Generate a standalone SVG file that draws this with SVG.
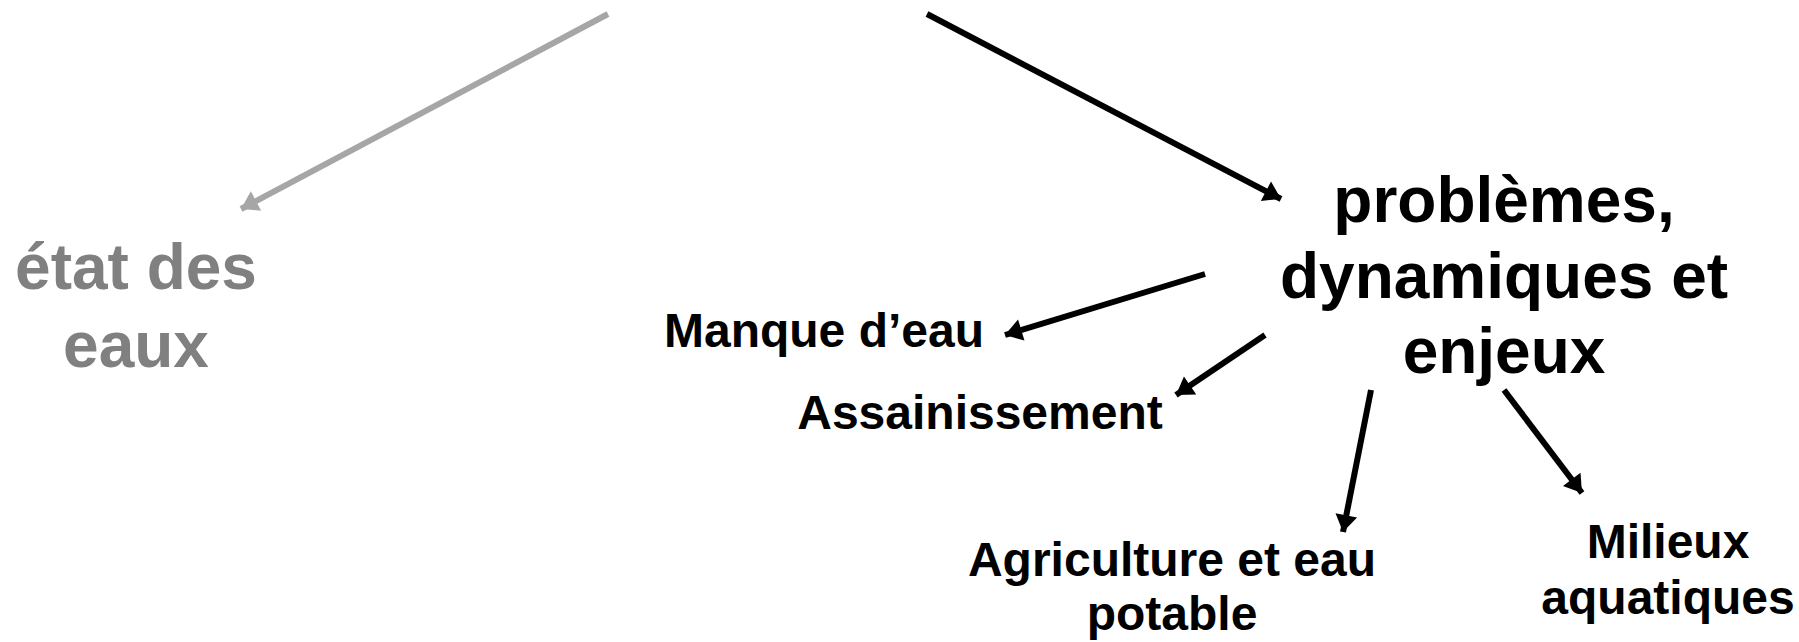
<svg xmlns="http://www.w3.org/2000/svg" width="1799" height="642" viewBox="0 0 1799 642">
<defs>
<marker id="ahB" markerUnits="userSpaceOnUse" markerWidth="24" markerHeight="24" viewBox="0 0 24 24" refX="20" refY="12" orient="auto">
<path d="M3,1 L20,12 L3,23 z" fill="#000"/>
</marker>
<marker id="ahG" markerUnits="userSpaceOnUse" markerWidth="24" markerHeight="24" viewBox="0 0 24 24" refX="20" refY="12" orient="auto">
<path d="M3,1 L20,12 L3,23 z" fill="#A6A6A6"/>
</marker>
<style>
text{font-family:"Liberation Sans",Arial,sans-serif;font-weight:bold;text-anchor:middle}
.big{font-size:64px}
.small{font-size:48px;fill:#000}
.grey{fill:#808080}
.blk{fill:#000}
.c{stroke:#000;stroke-width:6;fill:none;marker-end:url(#ahB)}
.cg{stroke:#A6A6A6;stroke-width:6;fill:none;marker-end:url(#ahG)}
</style>
</defs>
<rect width="1799" height="642" fill="#fff"/>
<g id="connectors">
<line class="cg" x1="608" y1="14" x2="241" y2="209"/>
<line class="c" x1="927" y1="14" x2="1281" y2="199"/>
<line class="c" x1="1205" y1="274" x2="1005" y2="335"/>
<line class="c" x1="1265" y1="335" x2="1176" y2="395"/>
<line class="c" x1="1371" y1="390" x2="1343" y2="532"/>
<line class="c" x1="1504" y1="390" x2="1582" y2="493"/>
</g>
<g id="etat">
<text class="big grey" x="136" y="289">état des</text>
<text class="big grey" x="136" y="367">eaux</text>
</g>
<g id="problemes">
<text class="big blk" x="1504" y="222">problèmes,</text>
<text class="big blk" x="1504" y="298">dynamiques et</text>
<text class="big blk" x="1504" y="373">enjeux</text>
</g>
<g id="manque">
<text class="small" x="824" y="347">Manque d’eau</text>
</g>
<g id="assainissement">
<text class="small" x="980" y="429">Assainissement</text>
</g>
<g id="agriculture">
<text class="small" x="1172" y="576">Agriculture et eau</text>
<text class="small" x="1172" y="630">potable</text>
</g>
<g id="milieux">
<text class="small" x="1668" y="558">Milieux</text>
<text class="small" x="1668" y="614">aquatiques</text>
</g>
</svg>
